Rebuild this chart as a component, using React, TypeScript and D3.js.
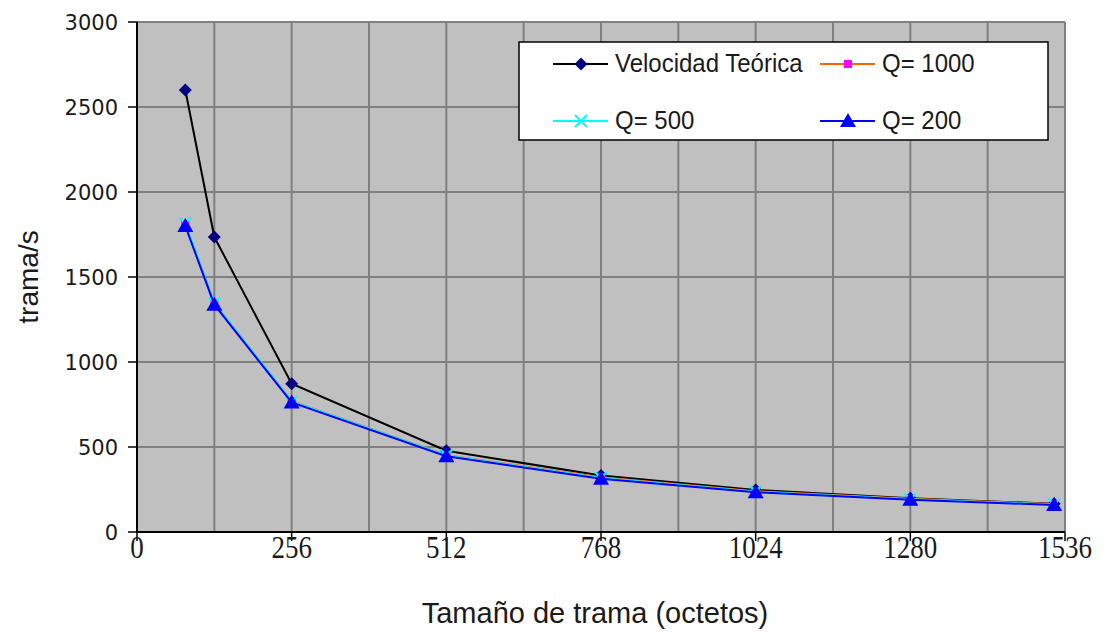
import React from "react";
import * as d3 from "d3";

const sizes = [80, 128, 256, 512, 768, 1024, 1280, 1518];
const teorica = [2600, 1735, 872, 478, 332, 247, 198, 166];
const q1000 = [1810, 1345, 770, 452, 322, 240, 196, 164];
const q500 = [1815, 1345, 768, 450, 317, 237, 193, 162];
const q200 = [1800, 1337, 762, 446, 313, 234, 190, 159];
const xTicks = [0, 256, 512, 768, 1024, 1280, 1536];
const xGrid = d3.range(0, 1537, 128);
const yTicks = [0, 500, 1000, 1500, 2000, 2500, 3000];

const W = 1105, H = 632;
const L = 137, R = 1065, T = 22, B = 532;

export default function App() {
  const x = d3.scaleLinear().domain([0, 1536]).range([L, R]);
  const y = d3.scaleLinear().domain([0, 3000]).range([B, T]);
  const line = (vals: number[]) =>
    d3.line<number>().x((_, i) => x(sizes[i])).y((v) => y(v))(vals) || "";

  const diamond = (cx: number, cy: number, k: string) => (
    <path key={k} d={`M${cx},${cy - 6.5}L${cx + 6.5},${cy}L${cx},${cy + 6.5}L${cx - 6.5},${cy}Z`} fill="#000080" />
  );
  const square = (cx: number, cy: number, k: string) => (
    <rect key={k} x={cx - 4} y={cy - 4} width={8} height={8} fill="#ff00ff" />
  );
  const cross = (cx: number, cy: number, k: string) => (
    <path key={k} d={`M${cx - 6},${cy - 6}L${cx + 6},${cy + 6}M${cx + 6},${cy - 6}L${cx - 6},${cy + 6}`} stroke="#00ffff" strokeWidth={2} />
  );
  const tri = (cx: number, cy: number, k: string) => (
    <path key={k} d={`M${cx},${cy - 8}L${cx + 8},${cy + 6}L${cx - 8},${cy + 6}Z`} fill="#0000ff" />
  );

  const series = [
    { vals: teorica, color: "#000000", marker: diamond },
    { vals: q1000, color: "#ff6600", marker: square },
    { vals: q500, color: "#00ffff", marker: cross },
    { vals: q200, color: "#0000ff", marker: tri },
  ];

  const legend = [
    { label: "Velocidad Teórica", color: "#000000", marker: diamond, lx: 553, ly: 64 },
    { label: "Q= 1000", color: "#ff6600", marker: square, lx: 820, ly: 64 },
    { label: "Q= 500", color: "#00ffff", marker: cross, lx: 553, ly: 121 },
    { label: "Q= 200", color: "#0000ff", marker: tri, lx: 820, ly: 121 },
  ];

  const txt = "#1a1a1a";

  return (
    <svg width={W} height={H} style={{ position: "absolute", left: 0, top: 0, background: "#fff" }}>
      <rect x={L} y={T} width={R - L} height={B - T} fill="#c0c0c0" />
      {xGrid.map((v) => (
        <line key={"gx" + v} x1={x(v)} x2={x(v)} y1={T} y2={B} stroke="#808080" strokeWidth={2} />
      ))}
      {yTicks.map((v) => (
        <line key={"gy" + v} x1={L} x2={R} y1={y(v)} y2={y(v)} stroke="#808080" strokeWidth={2} />
      ))}
      <line x1={L} x2={L} y1={T} y2={B + 1} stroke="#000" strokeWidth={2} />
      <line x1={L} x2={R} y1={B} y2={B} stroke="#000" strokeWidth={2} />
      {yTicks.map((v) => (
        <g key={"yt" + v}>
          <line x1={L - 9} x2={L} y1={y(v)} y2={y(v)} stroke="#000" strokeWidth={1.5} />
          <text x={L - 19} y={y(v)} dy="0.36em" textAnchor="end" fontFamily="DejaVu Sans" fontSize={21} fill={txt}>
            {v}
          </text>
        </g>
      ))}
      {xTicks.map((v) => (
        <g key={"xt" + v}>
          <line x1={x(v)} x2={x(v)} y1={B} y2={B + 9} stroke="#000" strokeWidth={1.5} />
          <text x={0} y={0} textAnchor="middle" fontFamily="Liberation Serif" fontSize={27} fill={txt}
            transform={`translate(${x(v)},558) scale(1,1.2)`}>
            {v}
          </text>
        </g>
      ))}
      <text transform="translate(38,277) rotate(-90)" textAnchor="middle" fontFamily="Liberation Sans" fontSize={28} fill={txt}>
        trama/s
      </text>
      <text x={595} y={623} textAnchor="middle" fontFamily="Liberation Sans" fontSize={29} fill={txt}>
        Tamaño de trama (octetos)
      </text>
      {series.map((s, si) => (
        <g key={"s" + si}>
          <path d={line(s.vals)} fill="none" stroke={s.color} strokeWidth={2} />
          {s.vals.map((v, i) => s.marker(x(sizes[i]), y(v), `m${si}-${i}`))}
        </g>
      ))}
      <rect x={519} y={42} width={529} height={98} fill="#fff" stroke="#000" strokeWidth={1.5} />
      {legend.map((l, i) => (
        <g key={"lg" + i}>
          <line x1={l.lx} x2={l.lx + 55} y1={l.ly} y2={l.ly} stroke={l.color} strokeWidth={2} />
          {l.marker(l.lx + 28, l.ly, "lm" + i)}
          <text x={0} y={0} fontFamily="Liberation Sans" fontSize={24} fill={txt}
            transform={`translate(${l.lx + 62},${l.ly + 8}) scale(1,1.1)`}>
            {l.label}
          </text>
        </g>
      ))}
    </svg>
  );
}
